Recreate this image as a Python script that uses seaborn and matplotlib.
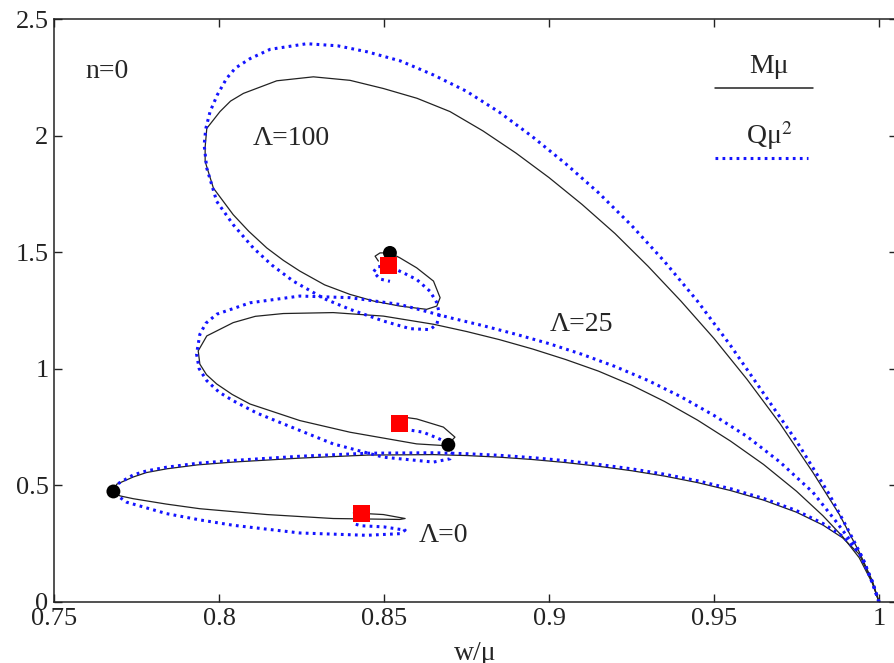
import numpy as np
import pandas as pd
import seaborn as sns
import matplotlib.pyplot as plt

# Lambda = 0
l0_m_w = [1.0, 0.998, 0.994, 0.989, 0.983, 0.975, 0.965, 0.955, 0.945, 0.935, 0.925, 0.915, 0.905,
          0.895, 0.885, 0.875, 0.865, 0.8450, 0.8245, 0.8043, 0.7935, 0.7841, 0.778, 0.774, 0.769,
          0.768, 0.770, 0.774, 0.784, 0.7942, 0.8145, 0.8346, 0.8548, 0.8564, 0.8498, 0.8407]
l0_m_v = [0.0, 0.085, 0.205, 0.275, 0.33, 0.385, 0.437, 0.478, 0.512, 0.54, 0.563, 0.582, 0.598,
          0.611, 0.621, 0.628, 0.632, 0.630, 0.617, 0.600, 0.588, 0.571, 0.555, 0.536, 0.505,
          0.474, 0.455, 0.443, 0.420, 0.400, 0.375, 0.358, 0.354, 0.358, 0.375, 0.382]
l0_q_w = [1.0, 0.998, 0.994, 0.989, 0.983, 0.975, 0.965, 0.955, 0.945, 0.935, 0.925, 0.915, 0.905,
          0.895, 0.885, 0.875, 0.865, 0.8450, 0.8245, 0.8043, 0.7935, 0.7841, 0.778, 0.774, 0.7685,
          0.7688, 0.772, 0.7841, 0.7942, 0.8043, 0.8245, 0.8447, 0.8548, 0.8564, 0.850, 0.843, 0.841]
l0_q_v = [0.0, 0.088, 0.21, 0.282, 0.337, 0.392, 0.444, 0.486, 0.52, 0.548, 0.571, 0.590, 0.606,
          0.619, 0.629, 0.636, 0.640, 0.638, 0.625, 0.607, 0.595, 0.578, 0.562, 0.545, 0.50,
          0.46, 0.428, 0.379, 0.352, 0.329, 0.296, 0.286, 0.293, 0.308, 0.322, 0.327, 0.335]

# Lambda = 25
l25_m_w = [1.0, 0.998, 0.994, 0.989, 0.983, 0.975, 0.965, 0.955, 0.945, 0.935, 0.925, 0.915, 0.905,
           0.895, 0.885, 0.875, 0.865, 0.8498, 0.8346, 0.8195, 0.811, 0.8043, 0.7963, 0.7937,
           0.7942, 0.7962, 0.7993, 0.804, 0.8094, 0.8245, 0.8397, 0.8599, 0.868, 0.8693, 0.8715,
           0.868, 0.8599, 0.8548]
l25_m_v = [0.0, 0.08, 0.19, 0.28, 0.37, 0.475, 0.59, 0.69, 0.78, 0.86, 0.93, 0.99, 1.04,
           1.085, 1.125, 1.16, 1.191, 1.226, 1.241, 1.237, 1.225, 1.198, 1.141, 1.077,
           1.02, 0.975, 0.935, 0.89, 0.849, 0.778, 0.728, 0.678, 0.671, 0.674, 0.707,
           0.75, 0.785, 0.795]
l25_q_w = [1.0, 0.998, 0.995, 0.992, 0.987, 0.98, 0.97, 0.96, 0.95, 0.94, 0.93, 0.92, 0.91, 0.90,
           0.89, 0.88, 0.87, 0.8548, 0.8397, 0.8245, 0.8094, 0.7993, 0.796, 0.7942, 0.7932, 0.794,
           0.7963, 0.800, 0.8043, 0.8115, 0.8195, 0.8346, 0.8498, 0.865, 0.87, 0.871, 0.868, 0.8619,
           0.8558, 0.8523]
l25_q_v = [0.0, 0.085, 0.19, 0.25, 0.345, 0.47, 0.60, 0.71, 0.80, 0.88, 0.95, 1.01, 1.062, 1.108,
           1.148, 1.185, 1.219, 1.276, 1.305, 1.312, 1.283, 1.234, 1.195, 1.148, 1.063, 1.0,
           0.949, 0.90, 0.863, 0.81, 0.764, 0.678, 0.621, 0.60, 0.614, 0.65, 0.692, 0.728,
           0.742, 0.735]

# Lambda = 100
l100_m_w = [1.0, 0.998, 0.994, 0.988, 0.98, 0.97, 0.96, 0.95, 0.94, 0.93, 0.92, 0.91, 0.90, 0.89,
            0.88, 0.870, 0.860, 0.8498, 0.8397, 0.8286, 0.8175, 0.8074, 0.8035, 0.8003, 0.7963,
            0.7958, 0.7958, 0.7983, 0.8043, 0.809, 0.8145, 0.8195, 0.8245, 0.832, 0.8397, 0.847,
            0.8548, 0.8629, 0.866, 0.867, 0.865, 0.8599, 0.8548, 0.8518, 0.8488, 0.8473, 0.8483]
l100_m_v = [0.0, 0.09, 0.215, 0.375, 0.555, 0.765, 0.955, 1.13, 1.29, 1.44, 1.58, 1.705, 1.82, 1.925,
            2.02, 2.103, 2.16, 2.202, 2.237, 2.252, 2.235, 2.181, 2.148, 2.103, 2.031,
            1.95, 1.889, 1.775, 1.661, 1.59, 1.518, 1.465, 1.419, 1.36, 1.319, 1.29,
            1.269, 1.255, 1.269, 1.305, 1.376, 1.433, 1.476, 1.497, 1.497, 1.483, 1.462]
l100_q_w = [1.0, 0.998, 0.995, 0.991, 0.985, 0.975, 0.965, 0.955, 0.945, 0.935, 0.925, 0.915, 0.905,
            0.895, 0.885, 0.875, 0.865, 0.855, 0.845, 0.836, 0.8266, 0.8155, 0.8094, 0.805, 0.8023,
            0.7995, 0.7973, 0.796, 0.7955, 0.7963, 0.7993, 0.8043, 0.8104, 0.816, 0.8225, 0.832,
            0.8397, 0.8498, 0.8579, 0.8639, 0.866, 0.8668, 0.866, 0.8639, 0.8599, 0.8558, 0.8515,
            0.848, 0.8468, 0.8488, 0.8518]
l100_q_v = [0.0, 0.08, 0.19, 0.30, 0.46, 0.69, 0.895, 1.10, 1.29, 1.46, 1.615, 1.755, 1.88,
            1.995, 2.10, 2.19, 2.26, 2.32, 2.359, 2.385, 2.394, 2.37, 2.33, 2.29, 2.245,
            2.175, 2.103, 2.03, 1.96, 1.86, 1.718, 1.618, 1.518, 1.445, 1.376, 1.30,
            1.255, 1.205, 1.172, 1.168, 1.191, 1.234, 1.284, 1.333, 1.383, 1.412, 1.44,
            1.438, 1.415, 1.385, 1.375]

# special points
dot_w = [0.768, 0.8695, 0.8518]
dot_v = [0.474, 0.674, 1.497]
sq_w = [0.8432, 0.8548, 0.8515]
sq_v = [0.379, 0.767, 1.443]

m_curves = [(l0_m_w, l0_m_v), (l25_m_w, l25_m_v), (l100_m_w, l100_m_v)]
q_curves = [(l0_q_w, l0_q_v), (l25_q_w, l25_q_v), (l100_q_w, l100_q_v)]

sns.set_theme(style="ticks")
plt.rcParams['font.family'] = ['Liberation Serif', 'DejaVu Serif']
plt.rcParams['mathtext.fontset'] = 'stix'

fig = plt.figure(figsize=(8.94, 6.63), dpi=100)
ax = fig.add_axes([54 / 894, 1 - 602 / 663, 843 / 894, 583 / 663])

for w, v in m_curves:
    sns.lineplot(x=w, y=v, ax=ax, sort=False, estimator=None, color='#222222', linewidth=0.9)
for w, v in q_curves:
    sns.lineplot(x=w, y=v, ax=ax, sort=False, estimator=None, color='#1414ff',
                 linewidth=2.2, linestyle=(0, (0.9, 1.4)))

sns.scatterplot(x=dot_w, y=dot_v, ax=ax, color='black', s=100, marker='o', edgecolor='none', zorder=5)
sns.scatterplot(x=sq_w, y=sq_v, ax=ax, color='#ff0000', s=150, marker='s', edgecolor='none', zorder=6)

ax.set_xlim(0.75, 0.75 + 0.25 * 843 / 825)
ax.set_ylim(0, 2.5)
ax.set_xticks([0.75, 0.8, 0.85, 0.9, 0.95, 1.0])
ax.set_xticklabels(['0.75', '0.8', '0.85', '0.9', '0.95', '1'])
ax.set_yticks([0, 0.5, 1, 1.5, 2, 2.5])
ax.set_yticklabels(['0', '0.5', '1', '1.5', '2', '2.5'])
ax.tick_params(direction='in', length=6, width=1, top=True, right=True,
               labelsize=19, pad=4, colors='#222222')
for sp in ax.spines.values():
    sp.set_linewidth(1.1)
    sp.set_color('#222222')

ax.set_xlabel('w/μ', fontsize=20, labelpad=8)
ax.set_ylabel('')

ax.text(0.7594, 2.274, 'n=0', fontsize=20, va='center', ha='left')
ax.text(0.8218, 1.987, 'Λ=100', fontsize=20, va='center', ha='center')
ax.text(0.9099, 1.192, 'Λ=25', fontsize=20, va='center', ha='center')
ax.text(0.8679, 0.286, 'Λ=0', fontsize=20, va='center', ha='center')

# legend keys: label above sample line
ax.text(0.848, 0.918, 'Mμ', fontsize=20, ha='center', va='center', transform=ax.transAxes)
ax.plot([0.784, 0.900], [0.882, 0.882], color='#222222', linewidth=1.1, transform=ax.transAxes)
ax.text(0.849, 0.800, 'Qμ$^2$', fontsize=20, ha='center', va='center', transform=ax.transAxes)
ax.plot([0.784, 0.895], [0.762, 0.762], color='#1414ff', linewidth=2.2,
        linestyle=(0, (0.9, 1.4)), transform=ax.transAxes)

fig.savefig('out.png', dpi=100)
